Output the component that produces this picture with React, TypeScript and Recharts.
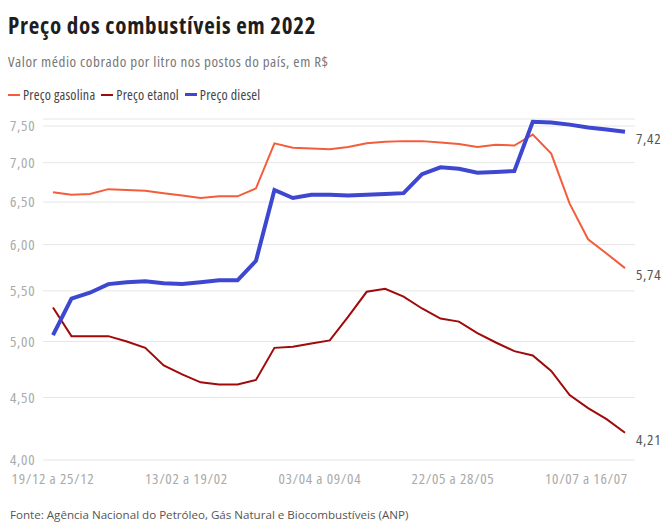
import { LineChart, Line, XAxis, YAxis, CartesianGrid } from "recharts";

// weekly average price per litre, R$ (19/12/2021 ... 24/07/2022)
const gasolina = [
  6.62, 6.59, 6.6, 6.66, 6.65, 6.64, 6.61, 6.58, 6.55, 6.57, 6.57, 6.67, 7.26,
  7.2, 7.19, 7.18, 7.21, 7.26, 7.28, 7.29, 7.29, 7.27, 7.25, 7.21, 7.24, 7.23,
  7.38, 7.12, 6.48, 6.06, 5.9, 5.74,
];
const etanol = [
  5.33, 5.05, 5.05, 5.05, 5.0, 4.94, 4.78, 4.7, 4.63, 4.61, 4.61, 4.65, 4.94,
  4.95, 4.98, 5.01, 5.24, 5.49, 5.52, 5.44, 5.32, 5.22, 5.19, 5.08, 4.99, 4.91,
  4.87, 4.73, 4.52, 4.41, 4.32, 4.21,
];
const diesel = [
  5.06, 5.42, 5.48, 5.57, 5.59, 5.6, 5.58, 5.57, 5.59, 5.61, 5.61, 5.82, 6.65,
  6.55, 6.59, 6.59, 6.58, 6.59, 6.6, 6.61, 6.85, 6.94, 6.92, 6.87, 6.88, 6.89,
  7.56, 7.55, 7.52, 7.48, 7.45, 7.42,
];

const xTicks = [0, 7.23, 14.46, 21.68, 28.91];
const xTickLabels = [
  "19/12 a 25/12",
  "13/02 a 19/02",
  "03/04 a 09/04",
  "22/05 a 28/05",
  "10/07 a 16/07",
];
const yTicks = [4, 4.5, 5, 5.5, 6, 6.5, 7, 7.5];

const series = [
  { key: "gasolina", name: "Preço gasolina", color: "#f45d3c", width: 2 },
  { key: "etanol", name: "Preço etanol", color: "#a00a0a", width: 2 },
  { key: "diesel", name: "Preço diesel", color: "#3d47cf", width: 4 },
];

const data = gasolina.map((g, i) => ({
  i,
  gasolina: g,
  etanol: etanol[i],
  diesel: diesel[i],
}));

const FONT = "'Open Sans', sans-serif";
const STRETCH = "75%";
const svgText = { fontFamily: FONT, fontStretch: STRETCH, letterSpacing: "0.7px" };
const fmt = (v: number) => v.toFixed(2).replace(".", ",");

const endLabel = (props: any) => {
  if (props.index !== data.length - 1) return null;
  return (
    <text
      x={props.x + 11}
      y={props.y + 7}
      dy="0.35em"
      fontSize={15}
      fill="#555"
      style={svgText}
    >
      {fmt(props.value)}
    </text>
  );
};

const YTick = (props: any) => (
  <text
    x={10}
    y={props.y}
    dy="0.35em"
    fontSize={15}
    fill="#aaa"
    style={svgText}
  >
    {fmt(props.payload.value)}
  </text>
);

export default function App() {
  return (
    <div
      style={{
        position: "absolute",
        left: 0,
        top: 0,
        width: 664,
        height: 522,
        overflow: "hidden",
        background: "#fff",
        fontFamily: FONT,
        fontStretch: STRETCH,
      }}
    >
      <div
        style={{
          position: "absolute",
          left: 8,
          top: 9,
          fontSize: 23,
          fontWeight: 700,
          letterSpacing: "0.75px",
          color: "#1e1e1e",
          whiteSpace: "nowrap",
        }}
      >
        Preço dos combustíveis em 2022
      </div>
      <div
        style={{
          position: "absolute",
          left: 8,
          top: 51,
          fontSize: 15,
          letterSpacing: "0.57px",
          color: "#777",
          whiteSpace: "nowrap",
        }}
      >
        Valor médio cobrado por litro nos postos do país, em R$
      </div>
      <div
        style={{
          position: "absolute",
          left: 8,
          top: 85,
          display: "flex",
          fontSize: 14,
          letterSpacing: "0.2px",
          color: "#444",
          whiteSpace: "nowrap",
        }}
      >
        {series.map((s) => (
          <div
            key={s.key}
            style={{ display: "flex", alignItems: "center", marginRight: 6 }}
          >
            <span
              style={{
                display: "inline-block",
                width: 12,
                height: s.key === "diesel" ? 3 : 2,
                background: s.color,
                marginRight: 3,
              }}
            />
            {s.name}
          </div>
        ))}
      </div>
      <div style={{ position: "absolute", left: 0, top: 0 }}>
        <LineChart
          width={664}
          height={522}
          data={data}
          margin={{ top: 119, right: 29, bottom: 32, left: 0 }}
        >
          <CartesianGrid vertical={false} stroke="#e6e6e6" />
          <XAxis
            dataKey="i"
            type="number"
            domain={[0, 31]}
            ticks={xTicks}
            tickFormatter={(v) => xTickLabels[xTicks.indexOf(v)]}
            padding={{ left: 10, right: 10 }}
            axisLine={false}
            tickLine={false}
            tickSize={0}
            tickMargin={13}
            height={30}
            tick={{ fontSize: 15, fill: "#aaa", style: svgText }}
            interval={0}
          />
          <YAxis
            type="number"
            scale="log"
            domain={[4, 7.6]}
            ticks={yTicks}
            allowDataOverflow
            axisLine={false}
            tickLine={false}
            width={43}
            tick={<YTick />}
          />
          {series.map((s) => (
            <Line
              key={s.key}
              type="linear"
              dataKey={s.key}
              stroke={s.color}
              strokeWidth={s.width}
              dot={false}
              isAnimationActive={false}
              label={endLabel}
            />
          ))}
        </LineChart>
      </div>
      <div
        style={{
          position: "absolute",
          left: 10,
          top: 508,
          fontSize: 11.6,
          lineHeight: "14px",
          fontStretch: "100%",
          color: "#555",
          whiteSpace: "nowrap",
        }}
      >
        Fonte: Agência Nacional do Petróleo, Gás Natural e Biocombustíveis (ANP)
      </div>
    </div>
  );
}
